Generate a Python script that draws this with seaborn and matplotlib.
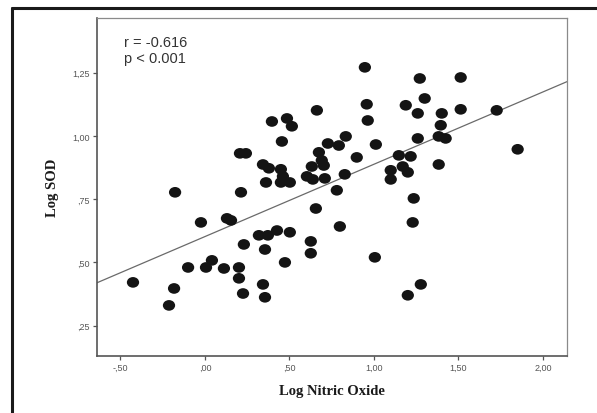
import numpy as np
import pandas as pd
import seaborn as sns
import matplotlib.pyplot as plt
from matplotlib.lines import Line2D
from matplotlib.path import Path
from matplotlib.transforms import Affine2D

# values
log_nitric_oxide = [
    -0.426, -0.213, -0.183, -0.177, -0.100, -0.024, 0.006, 0.041, 0.112, 0.130,
    0.154, 0.201, 0.201, 0.225, 0.230, 0.213, 0.207, 0.242, 0.319, 0.372,
    0.355, 0.343, 0.355, 0.426, 0.502, 0.473, 0.396, 0.485, 0.514, 0.455,
    0.343, 0.378, 0.449, 0.461, 0.361, 0.449, 0.502, 0.656, 0.626, 0.626,
    0.798, 0.946, 1.271, 1.513, 1.300, 0.662, 0.957, 1.188, 1.259, 1.401,
    1.513, 1.726, 0.963, 1.395, 0.833, 0.727, 0.792, 1.011, 1.259, 1.383,
    1.424, 1.850, 0.674, 0.898, 1.147, 1.217, 0.691, 0.632, 0.703, 1.383,
    1.170, 1.099, 1.200, 0.603, 0.638, 0.709, 0.827, 1.099, 0.780, 1.235,
    1.229, 1.005, 1.277, 1.200,
]
log_sod = [
    0.421, 0.330, 0.397, 0.777, 0.480, 0.658, 0.480, 0.508, 0.476, 0.674,
    0.666, 0.480, 0.437, 0.377, 0.571, 0.777, 0.931, 0.931, 0.607, 0.607,
    0.551, 0.413, 0.362, 0.626, 0.619, 0.500, 1.057, 1.069, 1.038, 0.978,
    0.887, 0.872, 0.868, 0.840, 0.816, 0.816, 0.816, 0.713, 0.583, 0.536,
    0.642, 1.271, 1.227, 1.231, 1.148, 1.101, 1.125, 1.121, 1.089, 1.089,
    1.105, 1.101, 1.061, 1.042, 0.998, 0.970, 0.962, 0.966, 0.990, 0.998,
    0.990, 0.947, 0.935, 0.915, 0.923, 0.919, 0.903, 0.879, 0.883, 0.887,
    0.879, 0.864, 0.856, 0.840, 0.828, 0.832, 0.848, 0.828, 0.785, 0.753,
    0.658, 0.520, 0.413, 0.370,
]
x_ticks = [-0.5, 0.0, 0.5, 1.0, 1.5, 2.0]
x_tick_labels = ["-,50", ",00", ",50", "1,00", "1,50", "2,00"]
y_ticks = [0.25, 0.50, 0.75, 1.00, 1.25]
y_tick_labels = [",25", ",50", ",75", "1,00", "1,25"]
stats_lines = ["r = -0.616", "p < 0.001"]

df = pd.DataFrame({"no": log_nitric_oxide, "sod": log_sod})

sns.set_style("white")
plt.rcParams["font.family"] = ["Liberation Sans", "DejaVu Sans"]

fig = plt.figure(figsize=(5.97, 4.14), dpi=100)
ax = fig.add_axes([97 / 597, 1 - 357 / 414, 470 / 597, 338 / 414])
ax.set_xlim(-0.639, 2.142)
ax.set_ylim(0.130, 1.466)

# slightly wide dots like the SPSS output
dot = Path.unit_circle().transformed(Affine2D().scale(1.15, 1.0))
sns.scatterplot(data=df, x="no", y="sod", ax=ax, marker=dot, s=78,
                color="#141414", edgecolor="none", zorder=3)
sns.regplot(data=df, x="no", y="sod", ax=ax, scatter=False, ci=None,
            truncate=False, line_kws=dict(color="#6a6a6a", lw=0.9))
ax.set_xlim(-0.639, 2.142)

ax.set_xticks(x_ticks)
ax.set_xticklabels(x_tick_labels)
ax.set_yticks(y_ticks)
ax.set_yticklabels(y_tick_labels)
ax.tick_params(axis="both", direction="out", length=3, width=0.9,
               color="#555555", labelsize=6.5, labelcolor="#555555", pad=2)
ax.tick_params(axis="x", bottom=True)
ax.tick_params(axis="y", left=True)

for side in ["left", "bottom"]:
    ax.spines[side].set_color("#555555")
    ax.spines[side].set_linewidth(1.2)
for side in ["top", "right"]:
    ax.spines[side].set_color("#8a8a8a")
    ax.spines[side].set_linewidth(0.9)

ax.set_xlabel("Log Nitric Oxide", family=["Liberation Serif", "DejaVu Serif"],
              fontweight="bold", fontsize=10.5, color="#1a1a1a", labelpad=9)
ax.set_ylabel("Log SOD", family=["Liberation Serif", "DejaVu Serif"],
              fontweight="bold", fontsize=10.5, color="#1a1a1a", labelpad=10)

for i, txt in enumerate(stats_lines):
    ax.text(0.057, 0.917 - i * 0.046, txt, transform=ax.transAxes,
            family=["Liberation Sans", "DejaVu Sans"],
            fontsize=10.5, color="#333333", va="baseline", ha="left")

# outer frame (left and top edges only are visible)
fig.add_artist(Line2D([12 / 597, 12 / 597], [0, 1 - 9 / 414],
                      transform=fig.transFigure, color="#1a1a1a", lw=2.2))
fig.add_artist(Line2D([12 / 597, 1], [1 - 9 / 414, 1 - 9 / 414],
                      transform=fig.transFigure, color="#1a1a1a", lw=2.2))

fig.savefig("out.png", dpi=100)
